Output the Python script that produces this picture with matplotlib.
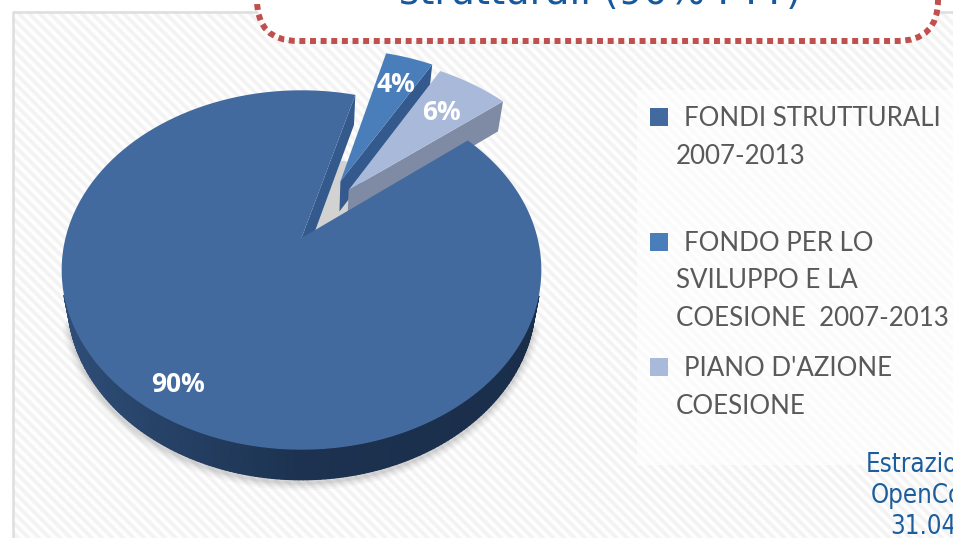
import numpy as np
import matplotlib
matplotlib.use("Agg")
import matplotlib.pyplot as plt
from matplotlib.patches import Polygon, Rectangle, FancyBboxPatch
from matplotlib.collections import PolyCollection
from matplotlib.colors import to_rgb

# ---------- data ----------
categories = ["FONDI STRUTTURALI\n2007-2013",
              "FONDO PER LO\nSVILUPPO E LA\nCOESIONE  2007-2013",
              "PIANO D'AZIONE\nCOESIONE"]
shares = [90, 4, 6]
share_labels = ["90%", "4%", "6%"]

# ---------- style / layout ----------
W, H = 954, 538
top_colors = ["#436a9e", "#4a7ebb", "#a9b9d9"]
wall_colors = ["#34598c", "#34598c", "#7f8aa5"]
first_angle = 51.5          # clockwise from 12 o'clock
explode_uv = [(0.0, 0.0), (0.175, 0.345), (0.21, 0.29)]
CX, CY, A, B, K = 301.5, 238.0, 174.0, 236.0, 0.178
DEPTH, SX = 30.0, 0.975

fig = plt.figure(figsize=(W / 100, H / 100), dpi=100)
ax = fig.add_axes([0, 0, 1, 1])
ax.set_xlim(0, W)
ax.set_ylim(H, 0)
ax.axis("off")


def project(u, v, low=False):
    u, v = np.asarray(u, float), np.asarray(v, float)
    w = 1 + K * v
    x, y = B * u / w, A * v / w
    if low:
        return np.c_[CX + x * SX, CY - y + DEPTH]
    return np.c_[CX + x, CY - y]


def radius_pts(a0, a1, off, n=240):
    """disc coordinates of the arc of a slice, with its apex offset"""
    t = np.radians(np.linspace(a0, a1, n))
    return off[0] + np.sin(t), off[1] + np.cos(t), off[0], off[1]


# ---------- background ----------
yy, xx = np.mgrid[0:H, 0:W]
bg = np.clip(0.972 + 0.026 * np.cos(2 * np.pi * (xx - yy) / 10.5), 0, 1)
ax.imshow(bg, cmap="gray", vmin=0, vmax=1, extent=[0, W, H, 0], aspect="auto",
          zorder=0, interpolation="bilinear")
ax.add_patch(Rectangle((0, 0), W, 11, fc="white", ec="none", zorder=0.1))
ax.add_patch(Rectangle((0, 0), 13, H, fc="white", ec="none", zorder=0.1))
ax.plot([W, 13, 13], [11.5, 11.5, H], color="#dedede", lw=1.8, zorder=0.2)
ax.add_patch(Rectangle((637, 90), W - 637, 375, fc="white", ec="none", alpha=0.62, zorder=0.3))

# ---------- slices ----------
ends = first_angle + np.cumsum(shares) * 3.6
starts = np.r_[first_angle, ends[:-1]]

# main slice: soft shadow, outer wall
a0, a1 = starts[0], ends[0]
u, v, ou, ov = radius_pts(a0, a1, explode_uv[0], 360)
low = project(u, v, True)
front = v < -0.3
for lw, al in [(11, .05), (8, .07), (5, .09), (2.5, .12)]:
    ax.plot(low[front, 0], low[front, 1] + 3, color="#777777", lw=lw, alpha=al, zorder=1,
            solid_capstyle="round")

# shadow in the gap between the main slice and the pulled-out slices
gap_u, gap_v, _, _ = radius_pts(ends[0] - 360, starts[0], (0, 0), 30)
gap = project(np.r_[0, gap_u * 0.72], np.r_[0, gap_v * 0.72], True)
ax.add_patch(Polygon(gap, fc="#d2d2d2", ec="none", zorder=1.1))

up = project(u, v)
uf, lf = up[front], low[front]
quads = np.stack([uf[:-1], uf[1:], lf[1:], lf[:-1]], axis=1)
xm = quads[:, :, 0].mean(axis=1)
c_l, c_m, c_r = map(np.array, (to_rgb("#2f4e78"), to_rgb("#1c3250"), to_rgb("#1a2e4a")))
tx = np.interp(xm, [60, 300, 540], [0, 1, 2])
cols = [c_l + (c_m - c_l) * t if t < 1 else c_m + (c_r - c_m) * (t - 1) for t in tx]
ax.add_patch(Polygon(np.r_[uf, lf[::-1]], fc="#213a5c", ec="none", zorder=1.15))
ax.add_collection(PolyCollection(quads, facecolors=cols, edgecolors=cols, lw=1.0, zorder=1.2))

# inner wall of the main slice (seen through the cut)
e_u, e_v = np.sin(np.radians(a1)), np.cos(np.radians(a1))
p_top = project([0, e_u], [0, e_v])
p_low = project([e_u, 0], [e_v, 0], True)
ax.add_patch(Polygon(np.r_[p_top, p_low], fc=wall_colors[0], ec="none", zorder=1.3))

# pulled-out slices (wall + top), then main top covers their lower walls
for i in (1, 2):
    u2, v2, ou2, ov2 = radius_pts(starts[i], ends[i], explode_uv[i], 80)
    top_ring = project(np.r_[ou2, u2], np.r_[ov2, v2])
    wall = np.r_[project([ou2, u2[-1]], [ov2, v2[-1]]),
                 project([u2[-1], ou2], [v2[-1], ov2], True)]
    zb = 1.4 + i * 0.1
    ax.add_patch(Polygon(wall, fc=wall_colors[i], ec="none", zorder=zb))
    ax.add_patch(Polygon(top_ring, fc=top_colors[i], ec="none", zorder=zb + 0.05))

ring = project(np.r_[0, u], np.r_[0, v])
ax.add_patch(Polygon(ring, fc=top_colors[0], ec="none", zorder=2))

# ---------- slice labels ----------
label_xy = [(178, 384), (396, 85), (441, 112)]
for (lx, ly), s in zip(label_xy, share_labels):
    ax.text(lx, ly, s, color="white", fontsize=19, fontweight="bold", family="Open Sans",
            ha="center", va="center", zorder=3)

# ---------- legend ----------
legend_y = [108, 233, 358]
line_step = 37.5
for y0, cat, col in zip(legend_y, categories, top_colors):
    ax.add_patch(Rectangle((650, y0), 18, 18, fc=col, ec="none", zorder=3))
    for j, line in enumerate(cat.split("\n")):
        ax.text(684 if j == 0 else 676, y0 + 18 + j * line_step, line, color="#595959",
                fontsize=18.6, family="Lato", ha="left", va="baseline", zorder=3)

# ---------- source note ----------
note_lines = ["Estrazione", "OpenCoesione", "31.04.2014"]
note_x = [866, 871, 890]
note_y = [472, 503, 534]
for nx, ny, t in zip(note_x, note_y, note_lines):
    ax.text(nx, ny, t, color="#1c5d9e", fontsize=18.5, family="DejaVu Sans",
            stretch="condensed", ha="left", va="baseline", zorder=3, clip_on=True)

# ---------- callout ----------
R = 41
for fc, ec, lw, ls, z in [("white", "none", 0, "-", 4),
                          ("none", "#c0504d", 4.3, (0, (1, 0.78)), 4.1)]:
    ax.add_patch(FancyBboxPatch((257 + R, -100), 938 - 257 - 2 * R, 100,
                                boxstyle=f"round,pad={R},rounding_size={R}", fc=fc, ec=ec,
                                lw=lw, linestyle=ls, zorder=z, capstyle="butt"))
ax.text(600, 4, "strutturali (90% FTT)", color="#17599c", fontsize=28, family="DejaVu Sans",
        ha="center", va="baseline", zorder=5, clip_on=True)

fig.savefig("out.png", dpi=100)
